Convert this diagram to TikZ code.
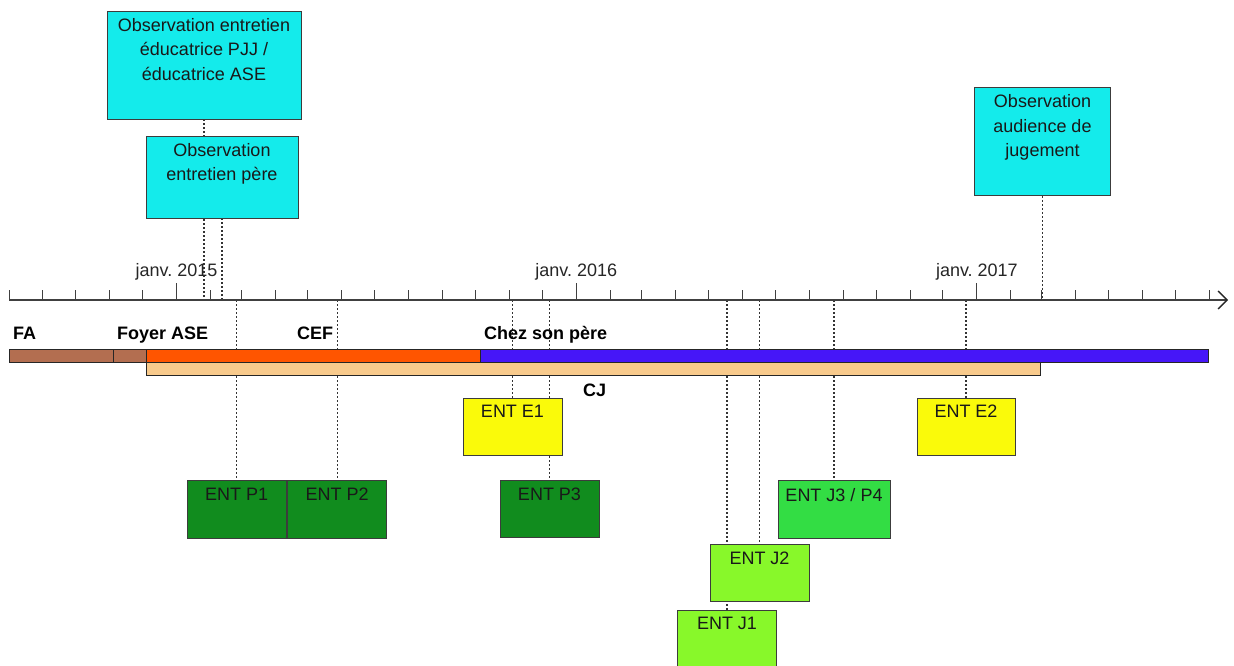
\documentclass[tikz,border=0pt]{standalone}
\usepackage{fontspec}
\setmainfont{Liberation Sans}
\usetikzlibrary{backgrounds}
\frenchspacing
\definecolor{cbrown}{RGB}{179,110,80}
\definecolor{corange}{RGB}{255,85,0}
\definecolor{cblue}{RGB}{70,22,248}
\definecolor{ccj}{RGB}{248,202,140}
\definecolor{ccyan}{RGB}{20,235,235}
\definecolor{cyellow}{RGB}{250,250,10}
\definecolor{cdgreen}{RGB}{17,140,30}
\definecolor{cmgreen}{RGB}{51,221,68}
\definecolor{clgreen}{RGB}{136,248,42}
\definecolor{cline}{RGB}{60,60,60}
\begin{document}
\begin{tikzpicture}[x=1pt,y=-1pt,
  txt/.style={font=\fontsize{18}{24.5}\selectfont\frenchspacing},
  btxt/.style={font=\fontsize{18}{24.5}\selectfont\bfseries},
  ebox/.style={draw=cline,line width=0.9pt,inner sep=0pt,
    label={[anchor=north,inner sep=0pt,yshift=-7.5pt,align=center,txt,text=black!90]north:#1}},
  dotline/.style={draw=black!80,line width=1.2pt,dash pattern=on 2pt off 2pt},
  bar/.style={draw=black!85,line width=0.9pt},
  tick/.style={draw=black!75,line width=1pt}]
\useasboundingbox (0,0) rectangle (1234,666);
% axis
\coordinate (ax) at (0,300);
\coordinate (axs) at (9,300);
\coordinate (axe) at (1227,300);
\draw[draw=black!75,line width=1.2pt] (axs) -- (axe);
\draw[draw=black!85,line width=1.4pt] (1218,291) -- (axe) -- (1218,309);
\foreach \d in {0,31,61,92,122,184,212,243,273,304,334,365,396,426,457,487,549,578,609,639,670,700,731,762,792,823,853,915,943,974,1004,1035,1065,1096}
  \draw[tick] ({9+1.09489*\d},290) -- ({9+1.09489*\d},300);
\foreach \d in {153,518,884}
  \draw[tick] ({9+1.09489*\d},283) -- ({9+1.09489*\d},300);
\node[txt,anchor=base,text=black!85] (y15) at (176.5,276) {janv. 2015};
\node[txt,anchor=base,text=black!85] (y16) at (576.2,276) {janv. 2016};
\node[txt,anchor=base,text=black!85] (y17) at (976.9,276) {janv. 2017};
% boxes
\node[ebox={Observation entretien\\éducatrice PJJ /\\éducatrice ASE},fill=ccyan,minimum width=194pt,minimum height=108pt] (o1) at (204,65) {};
\node[ebox={Observation\\entretien père},fill=ccyan,minimum width=152pt,minimum height=82pt] (o2) at (222,177) {};
\node[ebox={Observation\\audience de\\jugement},fill=ccyan,minimum width=136pt,minimum height=108pt] (o3) at (1042.5,141.5) {};
\node[ebox={ENT E1},fill=cyellow,minimum width=99pt,minimum height=57pt] (e1) at (512.5,426.5) {};
\node[ebox={ENT E2},fill=cyellow,minimum width=98pt,minimum height=57pt] (e2) at (966,426.5) {};
\node[ebox={ENT P1},fill=cdgreen,minimum width=99pt,minimum height=57.5pt] (p1) at (236.7,509.5) {};
\node[ebox={ENT P2},fill=cdgreen,minimum width=99pt,minimum height=57.5pt] (p2) at (337.2,509.5) {};
\node[ebox={ENT P3},fill=cdgreen,minimum width=99pt,minimum height=57.5pt] (p3) at (549.5,509) {};
\node[ebox={ENT J3 / P4},fill=cmgreen,minimum width=112pt,minimum height=57.5pt] (j3) at (834,509.5) {};
\node[ebox={ENT J2},fill=clgreen,minimum width=99pt,minimum height=57.5pt] (j2) at (759.5,573) {};
\node[ebox={ENT J1},fill=clgreen,minimum width=99pt,minimum height=57.5pt] (j1) at (727,638.8) {};
% dotted connectors
\begin{pgfonlayer}{background}
\draw[dotline] (o1.south) -- (o1.south |- ax);
\draw[dotline] (o2.south) -- (o2.south |- ax);
\draw[dotline] (o3.south) -- (o3.south |- ax);
\foreach \n in {e1,e2,p1,p2,p3,j1,j2,j3}
  \draw[dotline] (ax -| \n.north) -- (\n.north);
\end{pgfonlayer}
% bars
\draw[bar,fill=cbrown] (9,349.3) rectangle (113.3,362.7);
\draw[bar,fill=cbrown] (113.3,349.3) rectangle (146.7,362.7);
\draw[bar,fill=corange] (146.7,349.3) rectangle (480,362.7);
\draw[bar,fill=cblue] (480,349.3) rectangle (1208.7,362.7);
\draw[bar,fill=ccj] (146.7,362.7) rectangle (1040.7,375.3);
% bar labels
\node[btxt,anchor=base west,inner sep=0pt] (lfa) at (13,339) {FA};
\node[btxt,anchor=base west,inner sep=0pt] (lfoyer) at (117,339) {Foyer ASE};
\node[btxt,anchor=base west,inner sep=0pt] (lcef) at (297,339) {CEF};
\node[btxt,anchor=base west,inner sep=0pt] (lpere) at (484,339) {Chez son père};
\node[btxt,anchor=base west,inner sep=0pt] (lcj) at (583,396) {CJ};
\end{tikzpicture}
\end{document}
